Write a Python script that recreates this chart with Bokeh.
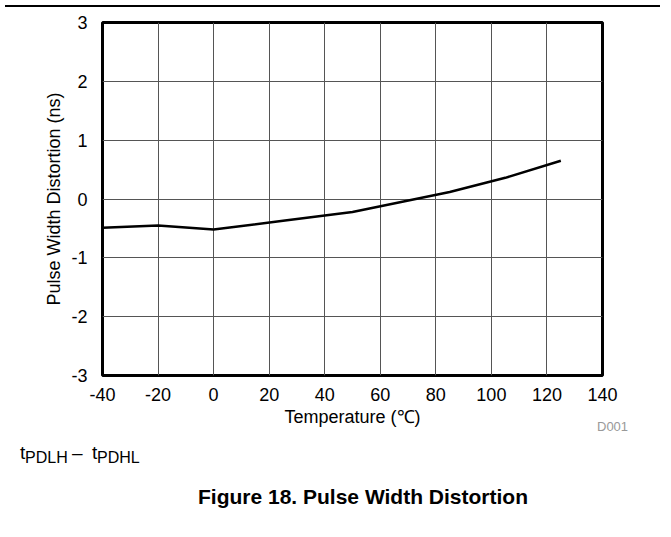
from bokeh.plotting import figure
from bokeh.models import Range1d, FixedTicker, Div
from bokeh.layouts import column
from bokeh.embed import file_html
from bokeh.resources import INLINE

# ---- data ----
temperature_c = [-40, -20, 0, 25, 50, 85, 105, 125]
distortion_ns = [-0.49, -0.45, -0.52, -0.37, -0.22, 0.12, 0.36, 0.65]
x_ticks = [-40, -20, 0, 20, 40, 60, 80, 100, 120, 140]
y_ticks = [-3, -2, -1, 0, 1, 2, 3]
x_label = "Temperature (\u2103)"
y_label = "Pulse Width Distortion (ns)"
figure_id = "D001"
note_parts = ["t", "PDLH", "\u2013", "t", "PDHL"]
caption = "Figure 18. Pulse Width Distortion"

FONT = "Liberation Sans"
W = 655
ML, MR, MT, MB = 102, 53, 10, 54
H1 = MT + 353 + MB
PAGE_FIG_TOP = 11
TEXT_SHIFT = -5  # empirical baseline correction inside the HTML block

p = figure(width=W, height=H1, output_backend="svg", toolbar_location=None,
           x_range=Range1d(-40, 140), y_range=Range1d(-3, 3),
           min_border_left=ML, min_border_right=MR,
           min_border_top=MT, min_border_bottom=MB)

p.outline_line_color = "black"
p.outline_line_width = 3
p.background_fill_color = "white"
p.border_fill_color = "white"

for ax, ticks in ((p.xaxis, x_ticks), (p.yaxis, y_ticks)):
    ax.ticker = FixedTicker(ticks=ticks)
    ax.major_label_overrides = {t: str(t) for t in ticks}
    ax.major_tick_line_color = None
    ax.minor_tick_line_color = None
    ax.axis_line_color = None
    ax.major_label_text_font = FONT
    ax.major_label_text_font_size = "18px"
    ax.major_label_text_color = "black"
    ax.axis_label_text_font = FONT
    ax.axis_label_text_font_size = "18px"
    ax.axis_label_text_font_style = "normal"
    ax.axis_label_text_color = "black"

p.xaxis.axis_label = x_label
p.yaxis.axis_label = y_label
p.xaxis.major_label_standoff = 6
p.xaxis.axis_label_standoff = 3
p.yaxis.major_label_standoff = 9
p.yaxis.axis_label_standoff = 4

p.xgrid.ticker = FixedTicker(ticks=x_ticks)
p.ygrid.ticker = FixedTicker(ticks=y_ticks)
for g in (p.xgrid, p.ygrid):
    g.grid_line_color = "#555555"
    g.grid_line_width = 1

p.line(temperature_c, distortion_ns, line_color="black", line_width=2.5)

# ---- text block below the chart: absolutely placed spans (page pixels) ----
DIV_TOP = PAGE_FIG_TOP + H1
H2 = 529 - (10 + H1)


def span(text, page_x, baseline_y, size, extra=""):
    top = baseline_y + TEXT_SHIFT - 0.8465 * size - DIV_TOP
    return (f'<span style="position:absolute; left:{page_x - 8}px; top:{top:.1f}px; '
            f'font-size:{size}px; line-height:{size}px; white-space:nowrap; {extra}">{text}</span>')


pieces = [
    span(figure_id, 600, 430, 13, "color:#999999;"),
    span(note_parts[0], 23, 458, 19),
    span(note_parts[1], 28, 462, 16),
    span(note_parts[2], 75, 458, 19),
    span(note_parts[3], 95, 458, 19),
    span(note_parts[4], 100, 462, 16),
]
cap_top = 503 + TEXT_SHIFT - 0.8465 * 21 - DIV_TOP
pieces.append(f'<div style="position:absolute; left:58px; width:600px; top:{cap_top:.1f}px; '
              f'text-align:center; font-size:21px; line-height:21px; font-weight:bold; '
              f'white-space:nowrap;">{caption}</div>')

html = (f'<div style="position:relative; width:{W}px; height:{H2}px; '
        f'font-family:\'{FONT}\'; color:black; margin:0; padding:0;">' + "".join(pieces) + '</div>')
notes = Div(width=W, height=H2, text=html)

rule = Div(width=W, height=2, styles={"background-color": "black"})
layout = column(rule, p, notes, spacing=0)

open("out.html", "w").write(file_html(layout, INLINE))
